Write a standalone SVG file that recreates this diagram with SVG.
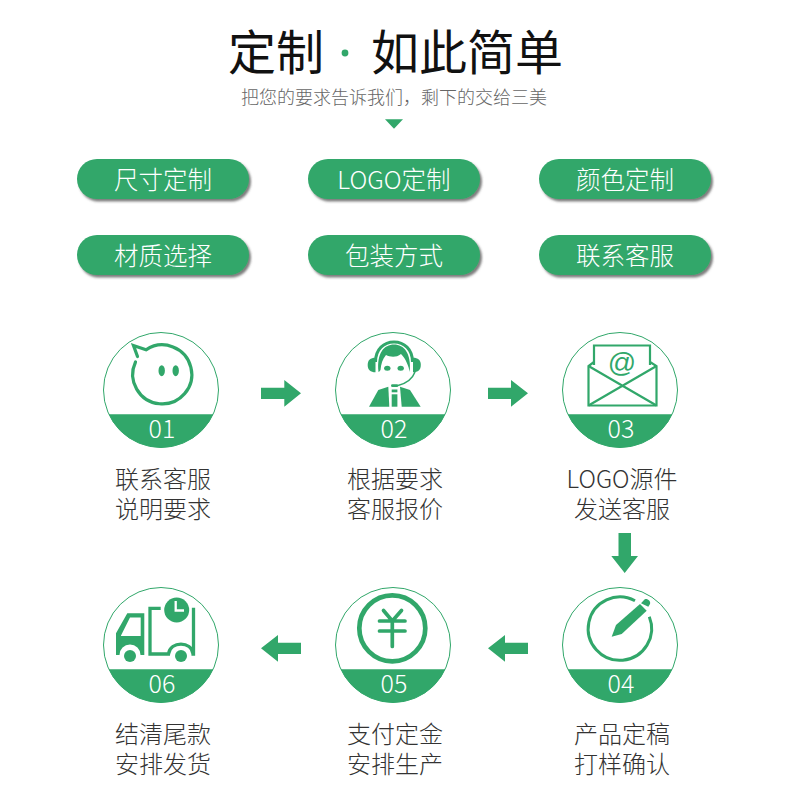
<svg xmlns="http://www.w3.org/2000/svg" width="800" height="800" viewBox="0 0 800 800">
<defs>
<filter id="sh" x="-10%" y="-20%" width="120%" height="150%"><feDropShadow dx="2" dy="2.5" stdDeviation="1" flood-color="#444" flood-opacity="0.7"/></filter>
</defs>
<style>
text{font-family:"Noto Sans CJK SC","Noto Sans",sans-serif;text-anchor:middle}
.t{font-size:48px;fill:#111}
.s{font-size:18px;fill:#666;font-weight:300}
.p{fill:#31a76a;filter:url(#sh)}
.pt{font-size:24.5px;fill:#fff;font-weight:300}
.l{font-size:24px;fill:#333;font-weight:300}
.n{font-size:25px;fill:#fff;font-family:"Noto Sans CJK SC",sans-serif;font-weight:300}
.c{fill:#fff;stroke:#31a76a;stroke-width:1}
.g{fill:#31a76a}
.o{fill:none;stroke:#31a76a}
.w{fill:#fff}
</style>
<rect width="800" height="800" fill="#fff"/>
<g id="header">
<text class="t" x="276" y="70">定制</text>
<circle class="g" cx="345" cy="53" r="3.4"/>
<text class="t" x="467" y="70">如此简单</text>
<text class="s" x="394" y="104">把您的要求告诉我们，剩下的交给三美</text>
<polygon class="g" points="385,119.3 403,119.3 394,128.7"/>
</g>
<g id="pill-1"><rect class="p" x="77" y="159" width="172" height="40" rx="20"/><text class="pt" x="163" y="189">尺寸定制</text></g>
<g id="pill-2"><rect class="p" x="308" y="159" width="172" height="40" rx="20"/><text class="pt" x="394" y="189">LOGO定制</text></g>
<g id="pill-3"><rect class="p" x="539" y="159" width="172" height="40" rx="20"/><text class="pt" x="625" y="189">颜色定制</text></g>
<g id="pill-4"><rect class="p" x="77" y="235" width="172" height="40" rx="20"/><text class="pt" x="163" y="265">材质选择</text></g>
<g id="pill-5"><rect class="p" x="308" y="235" width="172" height="40" rx="20"/><text class="pt" x="394" y="265">包装方式</text></g>
<g id="pill-6"><rect class="p" x="539" y="235" width="172" height="40" rx="20"/><text class="pt" x="625" y="265">联系客服</text></g>

<g id="connectors" class="g">
<polygon points="261,387.7 284.3,387.7 284.3,380 301,393.3 284.3,406.7 284.3,399 261,399"/>
<polygon points="488,387.7 511,387.7 511,380 528,393.3 511,406.7 511,399 488,399"/>
<polygon points="618.5,533 631,533 631,556 638,556 624.7,573 611.3,556 618.5,556"/>
<polygon points="301,642.7 278,642.7 278,635 261,648.3 278,661.7 278,654 301,654"/>
<polygon points="528,642.7 505,642.7 505,635 488,648.3 505,661.7 505,654 528,654"/>
</g>

<g id="step-01">
<circle class="c" cx="161" cy="390" r="57.5"/>
<path class="g" d="M108.700 414.300H213.300A57.700 57.700 0 0 1 108.700 414.300Z"/>
<path class="o" stroke-width="3.2" stroke-linecap="round" d="M135.500 362A29.500 29.500 0 1 0 146 349.800L133.500 345.500L137.500 356.500"/>
<ellipse class="g" cx="161.700" cy="370.700" rx="3.200" ry="5.500"/>
<ellipse class="g" cx="175.700" cy="370.700" rx="3.200" ry="5.500"/>
<text class="n" x="162" y="438">01</text>
</g>
<g id="step-02">
<circle class="c" cx="393" cy="390" r="57.500"/>
<path class="g" d="M340.700 414.300H445.300A57.700 57.700 0 0 1 340.700 414.300Z"/>
<path class="o" stroke-width="3" d="M375.500 362C375.500 349 384 342 394 342C404 342 412.500 349 412.500 362"/>
<path class="g" d="M378.500 372C376.500 353 384 344.500 394 344.500C404 344.500 411.500 353 409.800 372C408.500 366 406 359 401 354C396 358 390 357 386 355C382.500 359 381 364 380.500 370C379.800 371 379 372 378.500 372Z"/>
<path class="g" d="M367.700 365C367.700 360 370.500 357.700 375.500 357.700V372.300C370.500 372.300 367.700 370 367.700 365Z"/>
<path class="g" d="M420.800 365C420.800 360 418 357.700 413 357.700V372.300C418 372.300 420.800 370 420.800 365Z"/>
<ellipse class="g" cx="387.300" cy="368.300" rx="3.200" ry="2.500"/>
<ellipse class="g" cx="400.700" cy="368.300" rx="3.200" ry="2.500"/>
<path class="o" stroke-width="1.500" d="M415 372C412 380 406 383.500 398 385.500"/>
<rect class="g" x="391" y="384.300" width="7.300" height="2.800" rx="1.400"/>
<path class="g" d="M369 406.700L378.300 390L388.300 386.700L389.300 406.700Z"/>
<path class="g" d="M400 386.700L410 390L420.700 406.700L401.700 406.700Z"/>
<rect class="g" x="391.700" y="389.500" width="5.700" height="2.800"/>
<rect class="g" x="391.700" y="394.300" width="5.700" height="12.400"/>
<text class="n" x="394" y="438">02</text>
</g>
<g id="step-03">
<circle class="c" cx="620" cy="390" r="57.500"/>
<path class="g" d="M567.700 414.300H672.300A57.700 57.700 0 0 1 567.700 414.300Z"/>
<path class="o" stroke-width="2.200" d="M594 365V345.500H650V365"/>
<path class="o" stroke-width="2.200" d="M594 362L588.500 366V405.500H656.500V366L650 362"/>
<path class="o" stroke-width="2.200" d="M588.500 366L656.500 405.500M656.500 366L588.500 405.500"/>
<text x="622" y="372" style="font-size:28px;fill:#31a76a;font-family:'Liberation Sans',sans-serif">@</text>
<text class="n" x="621" y="438">03</text>
</g>
<g id="step-04">
<circle class="c" cx="620" cy="645" r="57.500"/>
<path class="g" d="M567.700 669.300H672.300A57.700 57.700 0 0 1 567.700 669.300Z"/>
<path class="o" stroke-width="3" d="M635 600.700A31.700 31.700 0 1 0 649.300 616.700"/>
<path class="g" d="M611.700 636.700L616 625L640 604L646.700 610.700L621.700 634Z"/>
<path class="g" d="M641 603.300L644.500 599.500C647 598 651 601 650 604L648.300 606.700Z"/>
<text class="n" x="621" y="693">04</text>
</g>
<g id="step-05">
<circle class="c" cx="393" cy="645" r="57.500"/>
<path class="g" d="M340.700 669.300H445.300A57.700 57.700 0 0 1 340.700 669.300Z"/>
<circle class="o" stroke-width="4.700" cx="392.300" cy="628.300" r="33"/>
<path class="o" stroke-width="3.700" stroke-linecap="round" d="M383.500 610.500L392.300 621L401.500 610.500M379.500 621H405M379.500 631H405M392.300 621V646.500"/>
<text class="n" x="394" y="693">05</text>
</g>
<g id="step-06">
<circle class="c" cx="161" cy="645" r="57.500"/>
<path class="g" d="M108.700 669.300H213.300A57.700 57.700 0 0 1 108.700 669.300Z"/>
<path class="g" d="M116 633.300L127.300 613.300H144.300V655H140.500A10.500 10.500 0 0 0 119.500 655H116Z"/>
<path class="w" d="M121 635.500L130 617.500H140.700V636H121Z"/>
<circle class="g" cx="130" cy="656" r="6"/>
<path class="o" stroke-width="3.300" d="M160.700 608.300H150V654H168.500C170 640.700 192 640.700 193 654H193.500V607.700"/>
<circle class="g" cx="181" cy="656" r="6"/>
<circle class="g" cx="176.700" cy="610" r="12.500"/>
<path fill="none" stroke="#fff" stroke-width="2.300" d="M175.700 601V610.500H184"/>
<text class="n" x="162" y="693">06</text>
</g>
<g id="labels">
<text class="l"><tspan x="163" y="488">联系客服</tspan><tspan x="163" y="518">说明要求</tspan></text>
<text class="l"><tspan x="395" y="488">根据要求</tspan><tspan x="395" y="518">客服报价</tspan></text>
<text class="l"><tspan x="622" y="488">LOGO源件</tspan><tspan x="622" y="518">发送客服</tspan></text>
<text class="l"><tspan x="163" y="743">结清尾款</tspan><tspan x="163" y="773">安排发货</tspan></text>
<text class="l"><tspan x="395" y="743">支付定金</tspan><tspan x="395" y="773">安排生产</tspan></text>
<text class="l"><tspan x="622" y="743">产品定稿</tspan><tspan x="622" y="773">打样确认</tspan></text>
</g>
</svg>
